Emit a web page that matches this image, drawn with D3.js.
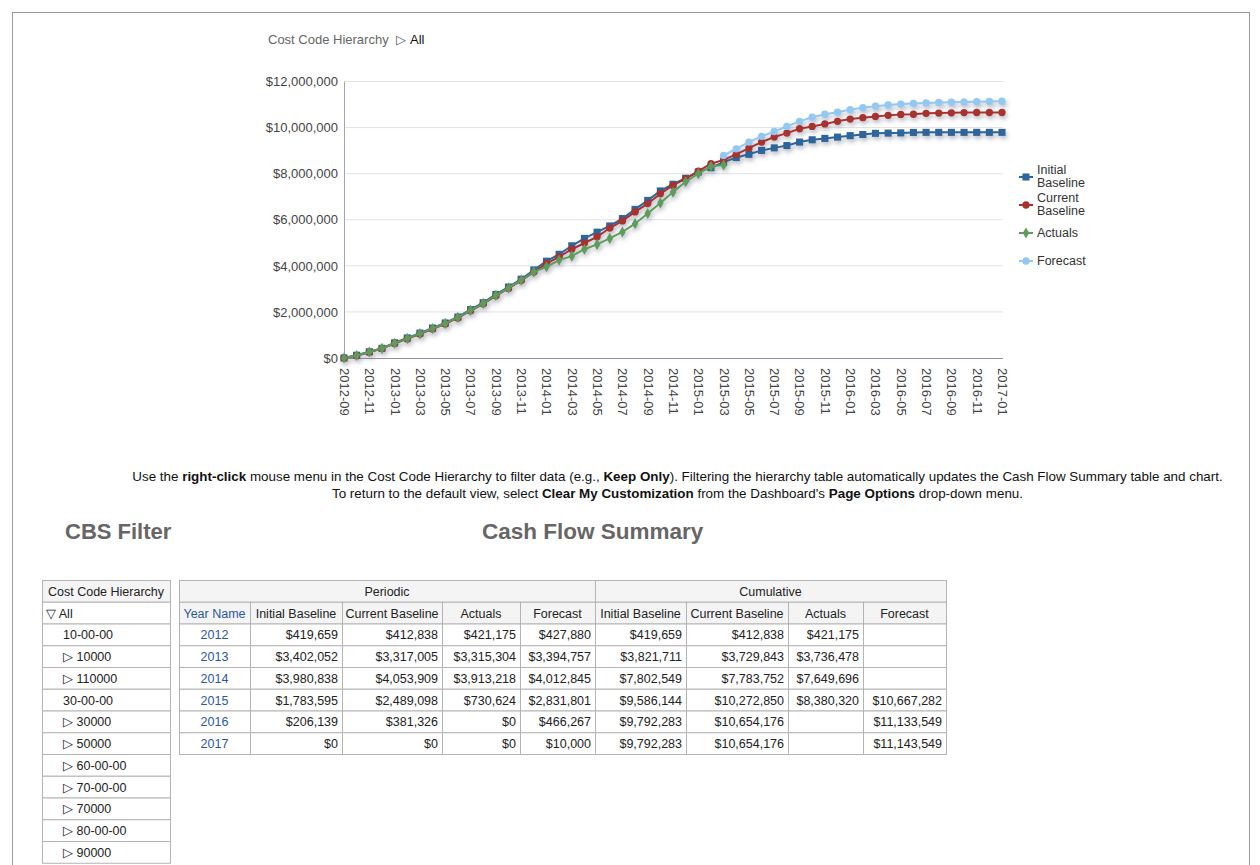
<!DOCTYPE html>
<html>
<head>
<meta charset="utf-8">
<script src="https://cdn.jsdelivr.net/npm/d3@7"></script>
<style>
body { margin: 0; background: #fff; }
text { font-family: "Liberation Sans", Arial, sans-serif; }
</style>
</head>
<body>
<div id="page"></div>
<script>
// months on the x axis
var months = ["2012-09","2012-10","2012-11","2012-12","2013-01","2013-02","2013-03","2013-04","2013-05","2013-06",
  "2013-07","2013-08","2013-09","2013-10","2013-11","2013-12","2014-01","2014-02","2014-03","2014-04",
  "2014-05","2014-06","2014-07","2014-08","2014-09","2014-10","2014-11","2014-12","2015-01","2015-02",
  "2015-03","2015-04","2015-05","2015-06","2015-07","2015-08","2015-09","2015-10","2015-11","2015-12",
  "2016-01","2016-02","2016-03","2016-04","2016-05","2016-06","2016-07","2016-08","2016-09","2016-10",
  "2016-11","2016-12","2017-01"];

var initialBaseline = [0,120000,270000,419659,660000,870000,1080000,1300000,1520000,1780000,
  2100000,2400000,2760000,3080000,3420000,3821711,4200000,4500000,4870000,5190000,
  5460000,5730000,6050000,6450000,6840000,7250000,7540000,7802549,8070000,8260000,
  8500000,8700000,8840000,9010000,9120000,9220000,9370000,9470000,9530000,9586144,
  9650000,9700000,9750000,9760000,9770000,9790000,9792283,9792283,9792283,9792283,
  9792283,9792283,9792283];

var currentBaseline = [0,100000,250000,412838,630000,830000,1040000,1260000,1480000,1740000,
  2050000,2350000,2700000,3020000,3360000,3729843,4100000,4390000,4720000,4990000,
  5260000,5640000,5950000,6340000,6700000,7130000,7490000,7783752,8110000,8430000,
  8600000,8840000,9110000,9370000,9590000,9760000,9950000,10050000,10160000,10272850,
  10370000,10430000,10480000,10530000,10570000,10580000,10620000,10630000,10640000,10650000,
  10654176,10654176,10654176];

var actuals = [0,110000,260000,421175,640000,850000,1060000,1280000,1500000,1760000,
  2070000,2370000,2720000,3040000,3380000,3736478,3960000,4250000,4420000,4720000,
  4930000,5190000,5470000,5830000,6270000,6730000,7200000,7649696,8000000,8320000,
  8380320];

var forecastStart = "2015-03";
var forecast = [8790000,9080000,9370000,9620000,9830000,10050000,10270000,10450000,10580000,10667282,
  10780000,10860000,10930000,10980000,11020000,11050000,11070000,11090000,11100000,11110000,
  11120000,11133549,11143549];

var yTicks = [0, 2000000, 4000000, 6000000, 8000000, 10000000, 12000000];

// summary table
var years = [2012, 2013, 2014, 2015, 2016, 2017];
var periodicInitial = [419659, 3402052, 3980838, 1783595, 206139, 0];
var periodicCurrent = [412838, 3317005, 4053909, 2489098, 381326, 0];
var periodicActuals = [421175, 3315304, 3913218, 730624, 0, 0];
var periodicForecast = [427880, 3394757, 4012845, 2831801, 466267, 10000];
var cumInitial = [419659, 3821711, 7802549, 9586144, 9792283, 9792283];
var cumCurrent = [412838, 3729843, 7783752, 10272850, 10654176, 10654176];
var cumActuals = [421175, 3736478, 7649696, 8380320, null, null];
var cumForecast = [null, null, null, 10667282, 11133549, 11143549];
var measureNames = ["Initial Baseline", "Current Baseline", "Actuals", "Forecast"];

// cost code hierarchy list
var hierarchyLabels = ["All", "10-00-00", "10000", "110000", "30-00-00", "30000", "50000",
  "60-00-00", "70-00-00", "70000", "80-00-00", "90000"];
var hierarchyMarks = ["open", "", "closed", "closed", "", "closed", "closed",
  "closed", "closed", "closed", "closed", "closed"];

var svg = d3.select("#page").append("svg")
  .attr("width", 1260)
  .attr("height", 865);

svg.append("rect")
  .attr("x", 12.5).attr("y", 12.5)
  .attr("width", 1237).attr("height", 900)
  .attr("fill", "none")
  .attr("stroke", "#9a9a9a");

// drop shadow for the lines
var defs = svg.append("defs");
defs.append("filter").attr("id", "shadow")
  .attr("x", "-5%").attr("y", "-5%").attr("width", "110%").attr("height", "115%")
  .append("feDropShadow")
  .attr("dx", 1.5).attr("dy", 3)
  .attr("stdDeviation", 2)
  .attr("flood-color", "#7a8090")
  .attr("flood-opacity", 0.5);

// chart header
var hdr = svg.append("text").attr("x", 268).attr("y", 44).style("font-size", "13px");
hdr.append("tspan").attr("fill", "#666").text("Cost Code Hierarchy");
hdr.append("tspan").attr("x", 396).attr("fill", "#555").text("\u25B7");
hdr.append("tspan").attr("x", 410).attr("fill", "#111").text("All");

var chartLeft = 344, chartRight = 1002, chartTop = 81.5, chartBottom = 358;

var x = d3.scalePoint()
  .domain(months)
  .range([chartLeft, chartRight]);

var y = d3.scaleLinear()
  .domain([0, 12000000])
  .range([chartBottom, chartTop]);

var chartGroup = svg.append("g");

// gridlines
chartGroup.append("g")
  .selectAll("line")
  .data(yTicks.slice(1))
  .enter()
  .append("line")
  .attr("x1", chartLeft).attr("x2", chartRight + 1)
  .attr("y1", d => y(d)).attr("y2", d => y(d))
  .attr("stroke", "#e2e2e2");

var leftAxis = d3.axisLeft(y)
  .tickValues(yTicks)
  .tickFormat(d3.format("$,"))
  .tickSize(0)
  .tickPadding(6);

var yAxisG = chartGroup.append("g")
  .attr("transform", `translate(${chartLeft}, 0)`)
  .call(leftAxis);
yAxisG.select(".domain").attr("stroke", "#a3a3bd");
yAxisG.selectAll("text")
  .style("font-size", "13px")
  .attr("fill", "#444")
  .attr("font-family", null);

var bottomAxis = d3.axisBottom(x)
  .tickValues(months.filter((m, i) => i % 2 === 0))
  .tickSize(0)
  .tickPadding(0);

var xAxisG = chartGroup.append("g")
  .attr("transform", `translate(0, ${chartBottom})`)
  .call(bottomAxis);
xAxisG.select(".domain").attr("stroke", "#8e8e9e").attr("d", `M${chartLeft},0.5H${chartRight + 1}`);
xAxisG.selectAll("text")
  .attr("y", 0)
  .attr("dy", "0.35em")
  .attr("transform", "translate(0,10) rotate(90)")
  .attr("text-anchor", "start")
  .style("font-size", "13px")
  .attr("fill", "#444")
  .attr("font-family", null);

// series
var forecastMonths = months.slice(months.indexOf(forecastStart));
var series = [
  { name: "Initial\nBaseline", color: "#2d6699", symbol: d3.symbolSquare, size: 50,
    points: initialBaseline.map((v, i) => [months[i], v]) },
  { name: "Current\nBaseline", color: "#a8312f", symbol: d3.symbolCircle, size: 42,
    points: currentBaseline.map((v, i) => [months[i], v]) },
  { name: "Actuals", color: "#5e9c5b", symbol: d3.symbolDiamond, size: 36,
    points: actuals.map((v, i) => [months[i], v]) },
  { name: "Forecast", color: "#93c8f2", symbol: d3.symbolCircle, size: 42,
    points: forecast.map((v, i) => [forecastMonths[i], v]) }
];

var line = d3.line()
  .x(d => x(d[0]))
  .y(d => y(d[1]));

var plot = chartGroup.append("g").attr("filter", "url(#shadow)");

series.forEach(function(s) {
  var g = plot.append("g");
  g.append("path")
    .datum(s.points)
    .attr("d", line)
    .attr("fill", "none")
    .attr("stroke", s.color)
    .attr("stroke-width", 2);
  g.selectAll("path.mark")
    .data(s.points)
    .enter()
    .append("path")
    .attr("class", "mark")
    .attr("d", d3.symbol().type(s.symbol).size(s.size))
    .attr("transform", d => `translate(${x(d[0])}, ${y(d[1])})`)
    .attr("fill", s.color);
});

// legend
var legendY = [177, 205, 233, 261];
var legend = svg.append("g");
series.forEach(function(s, i) {
  var lg = legend.append("g").attr("transform", `translate(1019, ${legendY[i]})`);
  lg.append("line").attr("x1", 0).attr("x2", 14).attr("stroke", s.color).attr("stroke-width", 2);
  lg.append("path")
    .attr("d", d3.symbol().type(s.symbol).size(s.size))
    .attr("transform", "translate(7,0)")
    .attr("fill", s.color);
  var parts = s.name.split("\n");
  var t = lg.append("text")
    .attr("x", 18)
    .attr("y", parts.length > 1 ? -3 : 4)
    .style("font-size", "12.5px")
    .attr("fill", "#333");
  parts.forEach(function(p, j) {
    t.append("tspan").attr("x", 18).attr("dy", j === 0 ? 0 : 12.5).text(p);
  });
});

// instructions
var para = [
  [["Use the ", false], ["right-click", true], [" mouse menu in the Cost Code Hierarchy to filter data (e.g., ", false],
   ["Keep Only", true], ["). Filtering the hierarchy table automatically updates the Cash Flow Summary table and chart.", false]],
  [["To return to the default view, select ", false], ["Clear My Customization", true],
   [" from the Dashboard's ", false], ["Page Options", true], [" drop-down menu.", false]]
];
para.forEach(function(lineParts, i) {
  var t = svg.append("text")
    .attr("x", 677.5)
    .attr("y", 481 + i * 17)
    .attr("text-anchor", "middle")
    .style("font-size", "13.4px")
    .attr("fill", "#111");
  lineParts.forEach(function(p) {
    t.append("tspan").attr("font-weight", p[1] ? "bold" : null).text(p[0]);
  });
});

// section titles
svg.append("text").attr("x", 65).attr("y", 539)
  .style("font-size", "22px").attr("font-weight", "bold").attr("fill", "#666")
  .text("CBS Filter");
svg.append("text").attr("x", 482).attr("y", 539)
  .style("font-size", "22.5px").attr("font-weight", "bold").attr("fill", "#666")
  .text("Cash Flow Summary");

// table helpers
var rowH = 21.75, tableTop = 580;
var borderColor = "#b4b4b4";
function cell(g, x0, y0, w, h, txt, opts) {
  opts = opts || {};
  g.append("rect")
    .attr("x", x0 + 0.5).attr("y", y0 + 0.5)
    .attr("width", w).attr("height", h)
    .attr("fill", opts.fill || "#fff")
    .attr("stroke", borderColor);
  if (txt === null || txt === undefined || txt === "") return;
  var anchor = opts.align || "middle";
  var tx = anchor === "middle" ? x0 + w / 2 : anchor === "end" ? x0 + w - 4 : x0 + (opts.indent || 4);
  g.append("text")
    .attr("x", tx)
    .attr("y", y0 + h / 2 + 5)
    .attr("text-anchor", anchor)
    .style("font-size", "12.5px")
    .attr("fill", opts.color || "#222")
    .text(txt);
}

// hierarchy table
var hier = svg.append("g");
cell(hier, 42, tableTop, 128, rowH, "Cost Code Hierarchy", { fill: "#f4f4f4" });
hierarchyLabels.forEach(function(lbl, i) {
  var y0 = tableTop + rowH * (i + 1);
  var mark = hierarchyMarks[i];
  if (mark === "open") {
    cell(hier, 42, y0, 128, rowH, "\u25BD All", { align: "start", indent: 4 });
  } else if (mark === "closed") {
    cell(hier, 42, y0, 128, rowH, "\u25B7 " + lbl, { align: "start", indent: 21 });
  } else {
    cell(hier, 42, y0, 128, rowH, lbl, { align: "start", indent: 21 });
  }
});

// cash flow table
var money = d3.format("$,");
var colX = [179, 250, 342, 442, 520, 595, 686, 788, 863, 946];
var tbl = svg.append("g");
cell(tbl, colX[0], tableTop, colX[5] - colX[0], rowH, "Periodic", { fill: "#f4f4f4" });
cell(tbl, colX[5], tableTop, colX[9] - colX[5], rowH, "Cumulative", { fill: "#f4f4f4" });
var headerRow = ["Year Name"].concat(measureNames, measureNames);
headerRow.forEach(function(h, c) {
  cell(tbl, colX[c], tableTop + rowH, colX[c + 1] - colX[c], rowH, h,
    { fill: "#f4f4f4", color: c === 0 ? "#2a57a5" : "#222" });
});
var columns = [periodicInitial, periodicCurrent, periodicActuals, periodicForecast,
  cumInitial, cumCurrent, cumActuals, cumForecast];
years.forEach(function(yr, r) {
  var y0 = tableTop + rowH * (r + 2);
  cell(tbl, colX[0], y0, colX[1] - colX[0], rowH, String(yr), { color: "#2a57a5" });
  columns.forEach(function(col, c) {
    var v = col[r];
    cell(tbl, colX[c + 1], y0, colX[c + 2] - colX[c + 1], rowH, v === null ? "" : money(v), { align: "end" });
  });
});
</script>
</body>
</html>
